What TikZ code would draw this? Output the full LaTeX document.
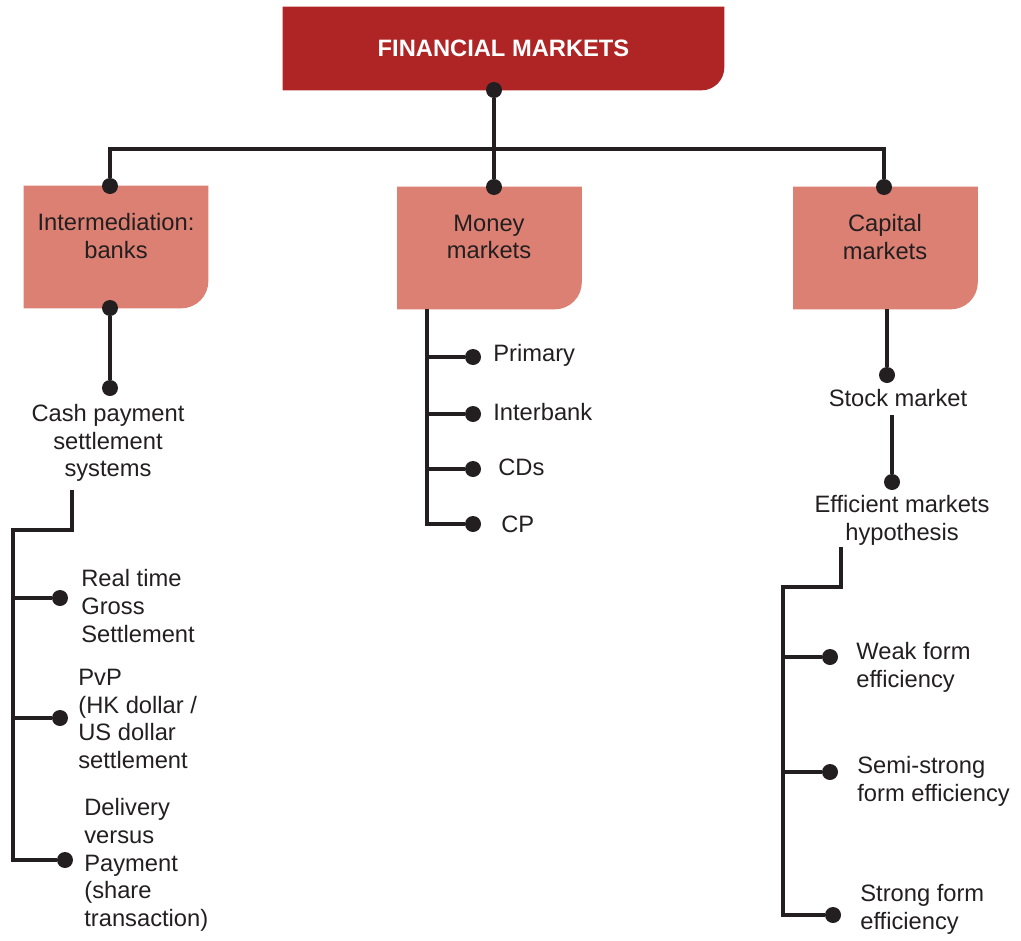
\documentclass[tikz,border=0pt]{standalone}
\usepackage{fontspec}
\setmainfont{Liberation Sans}
\usetikzlibrary{backgrounds}
\definecolor{ink}{RGB}{35,31,32}
\definecolor{topred}{RGB}{175,36,37}
\definecolor{boxpink}{RGB}{219,128,115}
\tikzset{
  x=0.02cm, y=-0.02cm,
  every node/.style={text=ink, font=\fontsize{13.5}{15.8}\selectfont},
  link/.style={draw=ink, line width=2.3pt},
  dot/.style={circle, fill=ink, inner sep=0pt, minimum size=0.32cm},
  headbox/.style={inner sep=0pt, minimum width=8.82cm, minimum height=1.66cm,
    text=white, font=\fontsize{13.5}{15.8}\selectfont\bfseries},
  subbox/.style={inner sep=0pt, minimum width=3.68cm, minimum height=2.44cm},
  caption/.style={align=center, inner sep=0pt},
  leaf/.style={align=left, anchor=west, inner sep=0pt},
}
% fill with only the bottom right corner rounded
\newcommand\tabfill[3]{\fill[#1] (#2.north west) -- (#2.north east)
  -- ([yshift=#3]#2.south east) arc[start angle=0, end angle=-90, radius=#3]
  -- (#2.south west) -- cycle;}

\begin{document}
\begin{tikzpicture}
    \useasboundingbox (0,0) rectangle (1021,940);

    % boxes
    \node[headbox] (fm) at (503.5,48.5) {FINANCIAL MARKETS};
    \node[subbox] (int) at (116,247) {};
    \node[subbox] (mm) at (489.5,248) {};
    \node[subbox] (cap) at (885.5,248) {};
    \node[caption] (int-t) at (116,236) {Intermediation:\\banks};
    \node[caption] (mm-t) at (489,237) {Money\\markets};
    \node[caption] (cap-t) at (885,237) {Capital\\markets};
    \begin{scope}[on background layer]
      \tabfill{topred}{fm}{13pt}
      \tabfill{boxpink}{int}{15.4pt}
      \tabfill{boxpink}{mm}{15.4pt}
      \tabfill{boxpink}{cap}{15.4pt}
    \end{scope}

    % texts
    \node[caption] (cash) at (108,443) {Cash payment\\settlement\\systems};
    \node[leaf] (rtgs) at (81,606) {Real time\\Gross\\Settlement};
    \node[leaf] (pvp) at (78,719) {PvP\\(HK dollar /\\US dollar\\settlement};
    \node[leaf] (dvp) at (84,865) {Delivery\\versus\\Payment\\(share\\transaction)};
    \node[leaf] (pri) at (493,355) {Primary};
    \node[leaf] (ib) at (493,412) {Interbank};
    \node[leaf] (cds) at (498,467) {CDs};
    \node[leaf] (cp) at (501,524) {CP};
    \node[caption] (stock) at (898,398) {Stock market};
    \node[caption] (emh) at (902,520) {Efficient markets\\hypothesis};
    \node[leaf] (weak) at (856,667) {Weak form\\efficiency};
    \node[leaf] (semi) at (857,781) {Semi-strong\\form efficiency};
    \node[leaf] (strong) at (860,909) {Strong form\\efficiency};

    % dots
    \node[dot] (d-fm) at (494,90) {};
    \node[dot] (d-int) at (110,186) {};
    \node[dot] (d-mm) at (494,187) {};
    \node[dot] (d-cap) at (884,187) {};
    \node[dot] (d-intb) at (110,308) {};
    \node[dot] (d-cash) at (110,388) {};
    \node[dot] (d-rtgs) at (60,598) {};
    \node[dot] (d-pvp) at (60,718) {};
    \node[dot] (d-dvp) at (65,860) {};
    \node[dot] (d-pri) at (473,357) {};
    \node[dot] (d-ib) at (473,414) {};
    \node[dot] (d-cds) at (473,469) {};
    \node[dot] (d-cp) at (473,524) {};
    \node[dot] (d-stock) at (887,375) {};
    \node[dot] (d-emh) at (892,482) {};
    \node[dot] (d-weak) at (830,657) {};
    \node[dot] (d-semi) at (830,772) {};
    \node[dot] (d-strong) at (833,915) {};

    % bends
    \coordinate (hub) at (494,149);
    \coordinate (cash-o) at (72,490);
    \coordinate (l-top) at (13,530);
    \coordinate (mm-o) at (427,309);
    \coordinate (cap-o) at (887,309);
    \coordinate (stock-o) at (892,415);
    \coordinate (emh-o) at (841,547);
    \coordinate (r-top) at (783,587);

    % connectors
    \draw[link] (d-fm) -- (d-mm);
    \draw[link] (d-int) |- (hub) -| (d-cap);
    \draw[link] (d-intb) -- (d-cash);
    \draw[link] (cash-o) |- (l-top) |- (d-dvp);
    \draw[link] (l-top) |- (d-rtgs);
    \draw[link] (l-top) |- (d-pvp);
    \draw[link] (mm-o) |- (d-cp);
    \draw[link] (mm-o) |- (d-pri);
    \draw[link] (mm-o) |- (d-ib);
    \draw[link] (mm-o) |- (d-cds);
    \draw[link] (cap-o) -- (d-stock);
    \draw[link] (stock-o) -- (d-emh);
    \draw[link] (emh-o) |- (r-top) |- (d-strong);
    \draw[link] (r-top) |- (d-weak);
    \draw[link] (r-top) |- (d-semi);

\end{tikzpicture}
\end{document}
